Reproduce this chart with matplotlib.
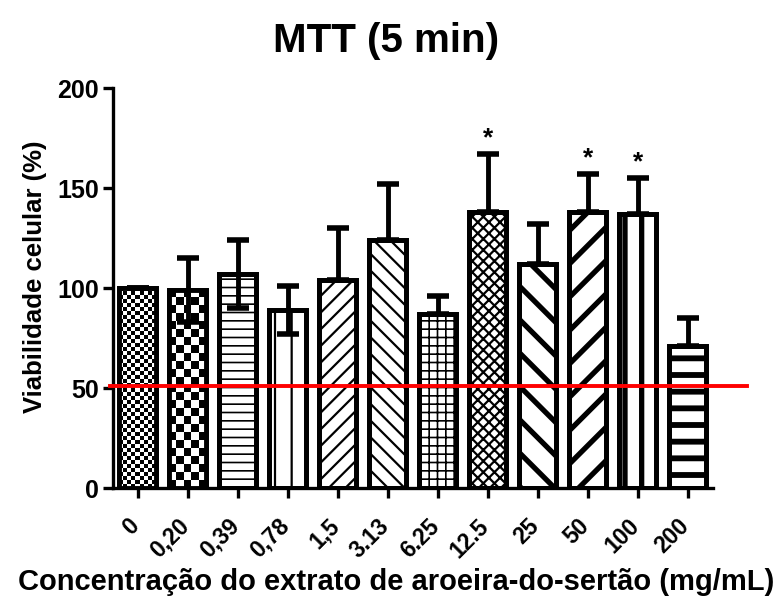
import numpy as np
import matplotlib.pyplot as plt
import matplotlib.transforms as mtransforms

plt.rcParams['font.family'] = ['Liberation Sans', 'DejaVu Sans']
plt.rcParams['font.weight'] = 'bold'

# dados
concentracoes = ['0', '0,20', '0,39', '0,78', '1,5', '3.13', '6.25', '12.5', '25', '50', '100', '200']
viabilidade = [100, 99, 107, 89, 104, 124, 87, 138, 112, 138, 137, 71]
desvio = [0, 16, 17, 12, 26, 28, 9, 29, 20, 19, 18, 14]
barra_inferior = [False, True, True, True, False, False, False, False, False, False, False, False]
significativos = [7, 9, 10]
limiar = 51

# hachuras: (padrao, espessura) ; None = xadrez desenhado como imagem
hachuras = [None, None, ('--', 1.2), ('|', 1.6), ('//', 1.6), ('\\\\', 1.6),
            ('++', 1.2), ('xxx', 1.6), ('\\', 3.8), ('/', 3.8), ('|', 3.8), ('-', 4.2)]
xadrez = {0: 2.0, 1: 4.0}   # tamanho da celula em unidades de y

largura = 0.74
pos = np.arange(len(concentracoes))

fig = plt.figure(figsize=(7.79, 5.99), dpi=100)
ax = fig.add_axes([0.145, 0.185, 0.77, 0.668])

for i in pos:
    h = hachuras[i]
    if h is None:
        b = ax.bar(pos[i], viabilidade[i], largura, color='white', edgecolor='black', linewidth=3.5, zorder=2)
        cel = xadrez[i]
        ny = int(round(viabilidade[i] / cel))
        nx = int(round(largura * 25 / cel))
        img = np.add.outer(np.arange(ny), np.arange(nx)) % 2
        im = ax.imshow(img, cmap='gray', interpolation='nearest', aspect='auto',
                       extent=(pos[i] - largura / 2, pos[i] + largura / 2, 0, viabilidade[i]), zorder=2.1)
        im.set_clip_path(b.patches[0])
    else:
        with plt.rc_context({'hatch.linewidth': h[1]}):
            b = ax.bar(pos[i], viabilidade[i], largura, color='white', edgecolor='black',
                       linewidth=3.5, hatch=h[0], zorder=2)
        p = b.patches[0]
        if hasattr(p, 'set_hatch_linewidth'):
            p.set_hatch_linewidth(h[1])
    ax.bar(pos[i], viabilidade[i], largura, fill=False, edgecolor='black', linewidth=3.5, zorder=2.2)

inf = [d if m else 0 for d, m in zip(desvio, barra_inferior)]
sup = list(desvio)
sup[0] = 0
eb = ax.errorbar(pos, viabilidade, yerr=[inf, sup], fmt='none', ecolor='black', elinewidth=3.5,
                 capsize=8, capthick=4, zorder=3, clip_on=False)
for c in eb[1]:
    c.set_solid_capstyle('round')

for i in significativos:
    ax.text(pos[i], viabilidade[i] + desvio[i] + 2, '*', ha='center', va='bottom', fontsize=19,
            fontweight='bold')

ax.plot([-0.56, 12.18], [limiar, limiar], color='red', linewidth=2.8, zorder=4, clip_on=False)

ax.set_xlim(-0.5, 11.5)
ax.set_ylim(0, 200)
ax.set_yticks([0, 50, 100, 150, 200])
ax.set_xticks(pos)
ax.set_xticklabels(concentracoes, rotation=45, ha='right')
ax.spines['top'].set_visible(False)
ax.spines['right'].set_visible(False)
ax.spines['left'].set_linewidth(2.4)
ax.spines['bottom'].set_linewidth(2.4)
ax.tick_params(width=2.4, length=7, labelsize=18, pad=3)
ax.tick_params(axis='x', labelsize=16.5, pad=12)

desloc = mtransforms.ScaledTranslation(0.06, 0, fig.dpi_scale_trans)
for lab in ax.get_xticklabels():
    lab.set_transform(lab.get_transform() + desloc)

fig.text(0.495, 0.932, 'MTT (5 min)', ha='center', va='center', fontsize=29, fontweight='bold')
fig.text(0.508, 0.028, 'Concentração do extrato de aroeira-do-sertão (mg/mL)', ha='center',
         va='center', fontsize=21, fontweight='bold')
fig.text(0.045, 0.538, 'Viabilidade celular (%)', ha='center', va='center', rotation=90,
         fontsize=18.5, fontweight='bold')

plt.savefig('out.png', dpi=100)
